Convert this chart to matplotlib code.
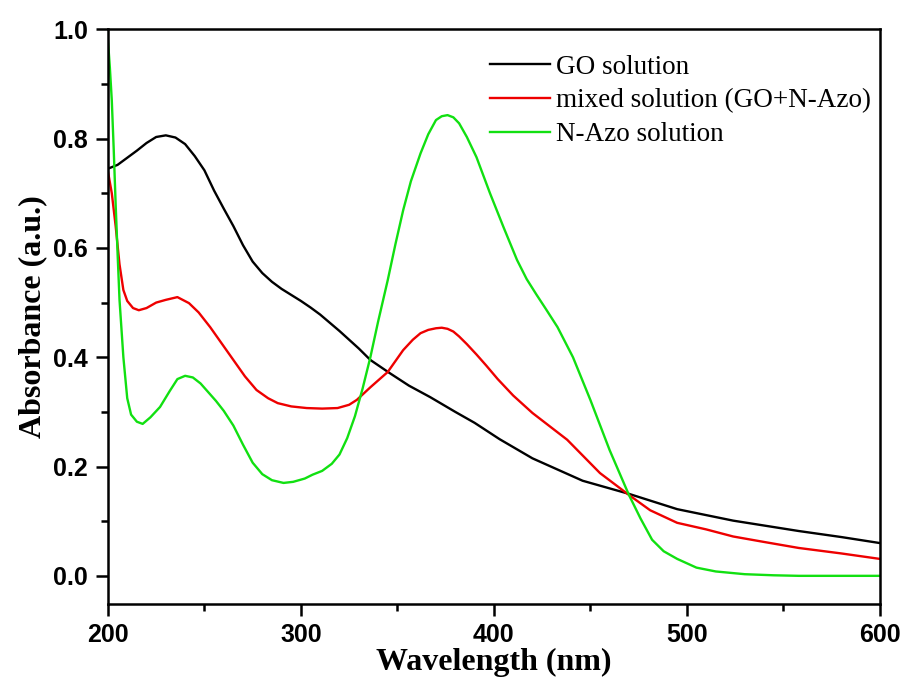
import matplotlib
matplotlib.use("Agg")
import matplotlib.pyplot as plt
from matplotlib.ticker import MultipleLocator

# GO solution
go_x = [200, 205, 210, 215, 220, 225, 230, 235, 240, 245, 250, 255, 260, 265, 270, 275,
        280, 285, 290, 295, 300, 305, 310, 315, 320, 325, 330, 336, 346, 356, 367, 380,
        390, 403, 420, 446, 470, 495, 524, 558, 580, 600]
go_y = [0.745, 0.752, 0.765, 0.778, 0.792, 0.803, 0.806, 0.802, 0.790, 0.768, 0.742, 0.705,
        0.672, 0.640, 0.605, 0.575, 0.554, 0.538, 0.525, 0.514, 0.503, 0.491, 0.478, 0.463,
        0.448, 0.432, 0.416, 0.395, 0.371, 0.348, 0.327, 0.300, 0.280, 0.250, 0.215, 0.174,
        0.150, 0.122, 0.101, 0.082, 0.071, 0.060]

# mixed solution (GO+N-Azo)
mix_x = [200, 202, 204, 206, 208, 210, 213, 216, 220, 225, 230, 236, 242, 247, 253, 259,
         265, 271, 277, 283, 288, 295, 303, 311, 319, 325, 329, 336, 345, 353, 358, 362,
         366, 370, 373, 376, 379, 382, 386, 391, 396, 402, 410, 420, 438, 455, 470, 481,
         495, 510, 524, 540, 558, 580, 600]
mix_y = [0.740, 0.700, 0.640, 0.570, 0.523, 0.503, 0.490, 0.486, 0.490, 0.500, 0.505, 0.510,
         0.499, 0.482, 0.455, 0.425, 0.395, 0.365, 0.340, 0.325, 0.316, 0.310, 0.307, 0.306,
         0.307, 0.313, 0.322, 0.345, 0.373, 0.413, 0.432, 0.444, 0.450, 0.453, 0.454, 0.452,
         0.447, 0.438, 0.424, 0.405, 0.385, 0.360, 0.330, 0.298, 0.249, 0.188, 0.148, 0.120,
         0.097, 0.085, 0.072, 0.062, 0.051, 0.041, 0.031]

# N-Azo solution
azo_x = [200, 201, 202, 203, 204, 205, 206, 208, 210, 212, 215, 218, 222, 227, 232, 236,
         240, 244, 248, 252, 256, 260, 265, 270, 275, 280, 285, 291, 296, 302, 306, 311,
         316, 320, 324, 328, 332, 336, 340, 345, 349, 353, 357, 362, 366, 370, 373, 376,
         379, 382, 386, 391, 398, 405, 412, 417, 422, 427, 433, 441, 450, 460, 470, 476,
         482, 488, 495, 505, 515, 530, 545, 558, 580, 600]
azo_y = [0.980, 0.930, 0.870, 0.780, 0.680, 0.590, 0.505, 0.400, 0.325, 0.295, 0.282, 0.278,
         0.290, 0.309, 0.338, 0.360, 0.366, 0.363, 0.352, 0.336, 0.320, 0.302, 0.275, 0.240,
         0.207, 0.186, 0.175, 0.170, 0.172, 0.178, 0.185, 0.192, 0.205, 0.222, 0.252, 0.292,
         0.343, 0.400, 0.465, 0.541, 0.607, 0.669, 0.722, 0.773, 0.808, 0.834, 0.841, 0.843,
         0.839, 0.828, 0.803, 0.766, 0.700, 0.638, 0.578, 0.543, 0.515, 0.488, 0.455, 0.400,
         0.322, 0.230, 0.148, 0.105, 0.066, 0.045, 0.031, 0.015, 0.008, 0.003, 0.001, 0.000,
         0.000, 0.000]

labels = ["GO solution", "mixed solution (GO+N-Azo)", "N-Azo solution"]
colors = ["#000000", "#ee0000", "#11e011"]

fig = plt.figure(figsize=(9.07, 6.82), dpi=100)
ax = fig.add_axes([0.119, 0.114, 0.851, 0.843])

for xs, ys, lab, c in zip([go_x, mix_x, azo_x], [go_y, mix_y, azo_y], labels, colors):
    ax.plot(xs, ys, color=c, lw=1.7, label=lab, solid_joinstyle="round")

ax.set_xlim(200, 600)
ax.set_ylim(-0.052, 1.0)
ax.xaxis.set_major_locator(MultipleLocator(100))
ax.xaxis.set_minor_locator(MultipleLocator(50))
ax.yaxis.set_minor_locator(MultipleLocator(0.1))
ax.set_yticks([0.0, 0.2, 0.4, 0.6, 0.8, 1.0])
ax.set_yticklabels(["0.0", "0.2", "0.4", "0.6", "0.8", "1.0"])

ax.tick_params(which="major", direction="out", length=8.5, width=1.8, pad=5,
               top=False, right=False)
ax.tick_params(which="minor", direction="out", length=5, width=1.8, top=False, right=False)
ax.tick_params(axis="y", which="major", pad=6)
for s in ax.spines.values():
    s.set_linewidth(1.8)

for lbl in ax.get_xticklabels() + ax.get_yticklabels():
    lbl.set_fontfamily("Liberation Sans")
    lbl.set_fontweight("bold")
    lbl.set_fontsize(18)

ax.set_xlabel("Wavelength (nm)", fontfamily="Liberation Serif", fontweight="bold",
              fontsize=23, labelpad=1)
ax.set_ylabel("Absorbance (a.u.)", fontfamily="Liberation Serif", fontweight="bold",
              fontsize=23, labelpad=4)

leg = ax.legend(loc="upper right", frameon=False,
                prop={"family": "Liberation Serif", "size": 19.5},
                handlelength=2.2, handletextpad=0.25, labelspacing=0.33,
                bbox_to_anchor=(1.003, 0.975), borderaxespad=0.0)

fig.savefig("out.png", dpi=100)
